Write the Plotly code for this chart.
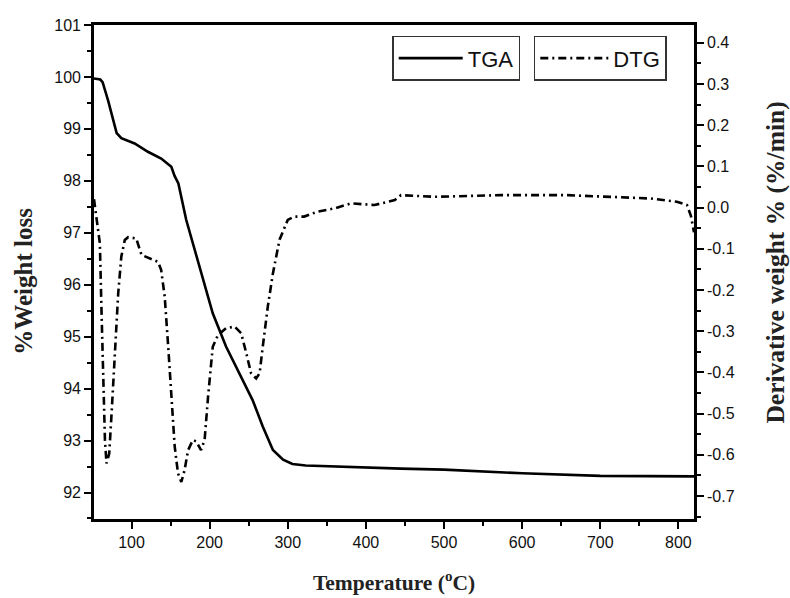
import plotly.graph_objects as go

# TGA curve (%Weight loss vs Temperature)
tga_temp = [52, 60, 63, 70, 81, 87, 104, 121, 138, 151, 155, 160, 170, 187, 204, 221, 238, 255,
            268, 281, 294, 306, 323, 360, 445, 500, 600, 700, 820]
tga_wt = [99.97, 99.95, 99.9, 99.55, 98.92, 98.82, 98.72, 98.56, 98.43, 98.27, 98.1, 97.95, 97.25,
          96.35, 95.45, 94.81, 94.30, 93.78, 93.27, 92.82, 92.63, 92.55, 92.52, 92.50, 92.46,
          92.44, 92.37, 92.32, 92.31]

# DTG curve (Derivative weight %/min vs Temperature)
dtg_temp = [52, 54, 56, 58, 59.5, 61.7, 64, 66, 68, 71.5, 74.5, 79, 83, 87, 91.4, 95.7, 106,
            112.8, 123.4, 134, 138, 142.5, 147, 151, 155.3, 159.5, 163.8, 168, 172.4, 178.6,
            183, 189, 193.6, 198, 204, 210.6, 221, 232, 240.4, 247, 253, 259.6, 264, 268,
            274.5, 281, 289.5, 300, 308.5, 321, 338, 360, 381, 411, 437, 445, 488, 573, 658,
            764, 798, 811, 816, 820]
dtg_val = [0.02, -0.01, -0.04, -0.07, -0.087, -0.257, -0.419, -0.564, -0.621, -0.597, -0.5,
           -0.338, -0.208, -0.119, -0.079, -0.072, -0.075, -0.115, -0.123, -0.132, -0.152,
           -0.216, -0.338, -0.459, -0.58, -0.645, -0.666, -0.637, -0.589, -0.564, -0.568,
           -0.589, -0.564, -0.459, -0.338, -0.31, -0.293, -0.289, -0.305, -0.354, -0.402,
           -0.415, -0.402, -0.338, -0.24, -0.16, -0.078, -0.03, -0.022, -0.022, -0.01,
           -0.002, 0.01, 0.006, 0.018, 0.03, 0.026, 0.03, 0.03, 0.022, 0.014, 0.006, -0.02,
           -0.06]

x_ticks = [100, 200, 300, 400, 500, 600, 700, 800]
y1_ticks = [92, 93, 94, 95, 96, 97, 98, 99, 100, 101]
y2_ticks = [-0.7, -0.6, -0.5, -0.4, -0.3, -0.2, -0.1, 0.0, 0.1, 0.2, 0.3, 0.4]

fig = go.Figure()
fig.add_trace(go.Scatter(x=tga_temp, y=tga_wt, mode="lines", name="TGA",
                         line=dict(color="black", width=2.6), legend="legend", showlegend=True))
fig.add_trace(go.Scatter(x=dtg_temp, y=dtg_val, mode="lines", name="DTG", yaxis="y2",
                         line=dict(color="black", width=2.6, dash="8px,4px,2px,4px"),
                         legend="legend2", showlegend=True))

tickfont = dict(family="Liberation Sans, Arial", size=16, color="#111")
ytitlefont = dict(family="Liberation Serif, Times New Roman", size=25, color="#222")
y2titlefont = dict(family="Liberation Serif, Times New Roman", size=25.5, color="#222")
xtitlefont = dict(family="Liberation Serif, Times New Roman", size=21.5, color="#222")
legfont = dict(family="Liberation Sans, Arial", size=22, color="#111")

fig.update_layout(
    width=790, height=598,
    margin=dict(l=94, r=96, t=25, b=79),
    paper_bgcolor="white", plot_bgcolor="white",
    showlegend=True,
    xaxis=dict(range=[52, 820], tickvals=x_ticks, ticktext=[str(v) for v in x_ticks],
               ticks="outside", ticklen=7, tickwidth=2, tickcolor="black",
               minor=dict(tickvals=[50, 150, 250, 350, 450, 550, 650, 750], ticks="outside",
                          ticklen=4, tickwidth=2, tickcolor="black"),
               showline=True, linewidth=2.6, linecolor="black", mirror=True,
               showgrid=False, zeroline=False, tickfont=tickfont, automargin=False,
               title=dict(text="<b>Temperature (<sup>o</sup>C)</b>", font=xtitlefont, standoff=25)),
    yaxis=dict(range=[91.49, 101], tickvals=y1_ticks, ticktext=[str(v) for v in y1_ticks],
               ticks="outside", ticklen=7, tickwidth=2, tickcolor="black",
               minor=dict(dtick=0.5, tick0=91.5, ticks="outside", ticklen=4, tickwidth=2,
                          tickcolor="black"),
               showline=True, linewidth=2.6, linecolor="black",
               showgrid=False, zeroline=False, tickfont=tickfont, automargin=False,
               title=dict(text="<b>%Weight loss&nbsp;&nbsp;&nbsp;</b>", font=ytitlefont, standoff=15)),
    yaxis2=dict(range=[-0.756, 0.443], overlaying="y", side="right",
                tickvals=y2_ticks, ticktext=[f"{v:.1f}" for v in y2_ticks],
                ticks="outside", ticklen=7, tickwidth=2, tickcolor="black",
                minor=dict(dtick=0.05, tick0=0, ticks="outside", ticklen=4, tickwidth=2,
                           tickcolor="black"),
                showline=True, linewidth=2.6, linecolor="black",
                showgrid=False, zeroline=False, tickfont=tickfont, automargin=False,
                title=dict(text="<b>&nbsp;&nbsp;&nbsp;Derivative weight % (%/min)</b>",
                           font=y2titlefont, standoff=34)),
    legend=dict(x=0.497, y=0.978, xanchor="left", yanchor="top", visible=True,
                bordercolor="#333", borderwidth=1.5, bgcolor="white",
                font=legfont, itemwidth=64),
    legend2=dict(x=0.733, y=0.978, xanchor="left", yanchor="top", visible=True,
                 bordercolor="#333", borderwidth=1.5, bgcolor="white",
                 font=legfont, itemwidth=68),
)

fig.write_html("out.html", config={"displayModeBar": False},
               post_script="document.body.style.margin='0';")
